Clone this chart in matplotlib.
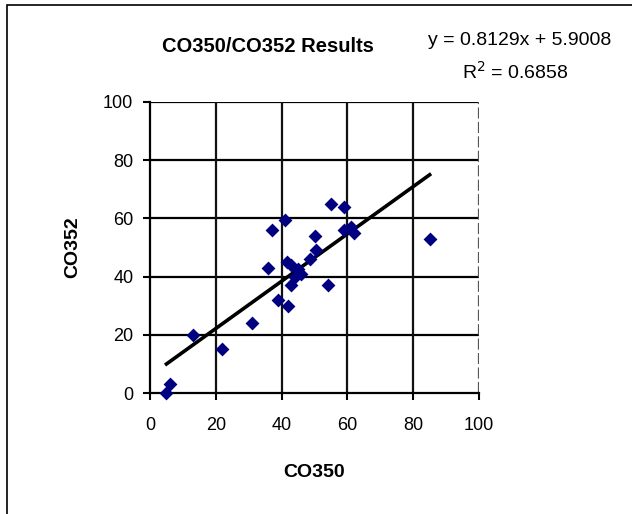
import numpy as np
import matplotlib.pyplot as plt
from matplotlib.patches import Rectangle

plt.rcParams['font.family'] = ['Liberation Sans', 'DejaVu Sans']

# CO350 vs CO352 measurements
co350 = [5, 6, 13, 22, 31, 36, 37, 39, 41, 42, 41.5, 43, 43, 44, 46, 45,
         48.6, 50, 50.5, 54, 55, 59, 59, 61, 62, 85]
co352 = [0, 3, 20, 15, 24, 43, 56, 32, 59.5, 30, 45, 44, 37, 40, 41, 42.5,
         46, 54, 49, 37, 65, 64, 56, 57, 55, 53]

# linear trend reported on the chart
slope = 0.8129
intercept = 5.9008
r2 = 0.6858

fig = plt.figure(figsize=(6.32, 5.14), dpi=100)
fig.patches.append(Rectangle((7 / 632, -0.1), 1.1, 1 - 5 / 514 + 0.1,
                             transform=fig.transFigure, fill=False,
                             edgecolor='black', linewidth=1.2))

ax = fig.add_axes([150 / 632, 1 - 393 / 514, 329 / 632, 291 / 514])

# grid lines; the right edge is a lighter broken line
for y in range(20, 101, 20):
    ax.axhline(y, color='black', linewidth=1.6, zorder=1)
for x in range(20, 100, 20):
    ax.axvline(x, color='#111111', linewidth=1.6, zorder=1)
ax.axvline(100, color='#555555', linewidth=1.6, linestyle=(0, (5, 1.5)), zorder=1)

ax.scatter(co350, co352, marker='D', s=50, color='#000080', linewidths=0,
           zorder=3, clip_on=False)

xs = np.array([min(co350), max(co350)])
ax.plot(xs, slope * xs + intercept, color='black', linewidth=2.6, zorder=2)

ax.set_xlim(0, 100)
ax.set_ylim(0, 100)
ax.set_xticks(range(0, 101, 20))
ax.set_yticks(range(0, 101, 20))
for side in ['top', 'right']:
    ax.spines[side].set_visible(False)
ax.spines['left'].set_linewidth(1.6)
ax.spines['bottom'].set_linewidth(1.6)
ax.tick_params(direction='out', length=5, width=1.5, labelsize=13)
ax.tick_params(axis='x', pad=12)
ax.tick_params(axis='y', pad=7)

ax.set_xlabel('CO350', fontsize=14, fontweight='bold', labelpad=22)
ax.set_ylabel('CO352', fontsize=14, fontweight='bold', labelpad=16)

fig.text(268 / 632, 1 - 47 / 514, 'CO350/CO352 Results', fontsize=14.5,
         fontweight='bold', ha='center', va='center')
fig.text(520 / 632, 1 - 41 / 514, f'y = {slope}x + {intercept}', fontsize=14,
         ha='center', va='center')
fig.text(515 / 632, 1 - 72 / 514, f'R$^2$ = {r2}', fontsize=14,
         ha='center', va='center')

fig.savefig('out.png', dpi=100)
